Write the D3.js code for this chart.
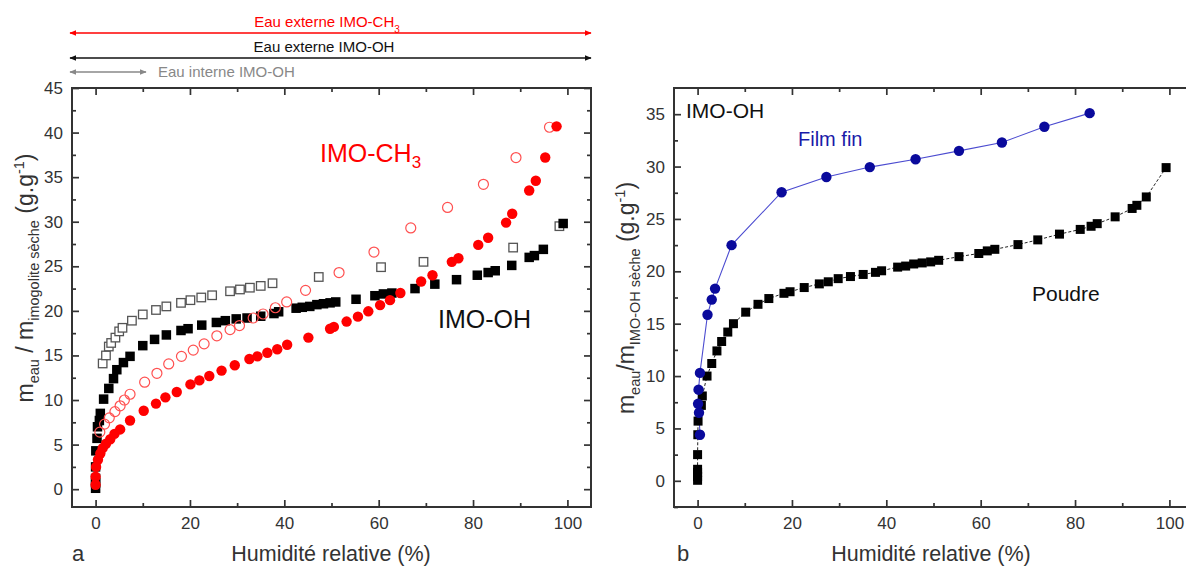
<!DOCTYPE html>
<html><head><meta charset="utf-8">
<script src="https://cdn.jsdelivr.net/npm/d3@7"></script>
<style>
body{margin:0;background:#fff}
svg{display:block}
text{font-family:"Liberation Sans",Arial,sans-serif}
</style>
</head><body>
<svg id="c" width="1186" height="566"></svg>
<script>
// ---------- data ----------
const xMajorTicks = [0, 20, 40, 60, 80, 100];
const xMinorTicks = [10, 30, 50, 70, 90];
const aYMajorTicks = [0, 5, 10, 15, 20, 25, 30, 35, 40, 45];
const aYMinorTicks = [2.5, 7.5, 12.5, 17.5, 22.5, 27.5, 32.5, 37.5, 42.5];
const bYMajorTicks = [0, 5, 10, 15, 20, 25, 30, 35];
const bYMinorTicks = [-2.5, 2.5, 7.5, 12.5, 17.5, 22.5, 27.5, 32.5];

// panel a : IMO-OH filled squares
const aOhX = [0,0,0,0,0.05,0.3,0.4,0.8,1.0,1.7,2.8,3.8,4.5,5.9,7.3,10.0,12.5,15.0,18.1,19.6,22.5,25.6,27.5,29.8,32.1,35.0,37.8,38.8,42.5,43.8,45.4,46.9,48.3,49.7,50.9,55.2,59.2,61.0,62.8,67.7,71.9,76.5,80.9,83.2,84.7,88.2,91.9,93.0,94.9,99.1];
const aOhY = [0.1,0.7,1.2,2.5,4.3,5.7,7.0,7.7,8.5,10.1,11.3,12.4,13.4,14.2,14.9,16.1,16.8,17.3,17.8,18.0,18.4,18.7,18.9,19.1,19.2,19.4,19.7,19.9,20.3,20.4,20.5,20.7,20.8,20.9,21.0,21.3,21.7,21.9,22.0,22.5,23.0,23.5,24.0,24.3,24.5,25.1,26.0,26.2,26.9,29.8];
// panel a : IMO-OH open squares
const aOhOpenX = [1.5,2.2,2.8,3.3,4.2,5.0,5.7,7.7,10.0,12.8,15.0,18.1,20.1,22.4,24.7,28.5,30.6,32.7,35.0,37.5,47.3,60.5,69.5,88.5,98.3];
const aOhOpenY = [14.1,15.0,16.0,16.4,17.0,17.7,18.1,18.9,19.6,20.1,20.5,20.9,21.2,21.5,21.75,22.2,22.4,22.6,22.8,23.1,23.8,24.9,25.5,27.1,29.5];
// panel a : IMO-CH3 filled circles
const aCh3X = [0,0,0.1,0.5,1.0,1.5,2.2,3.1,4.0,5.2,7.3,10.2,12.8,14.8,17.2,20.1,22.0,24.1,26.7,29.5,32.6,34.3,36.4,38.5,40.6,45.1,49.7,50.5,53.2,55.6,57.8,60.3,62.4,64.6,69.0,71.4,75.5,76.9,81.1,83.2,87.0,88.3,91.9,93.3,95.3,97.7];
const aCh3Y = [0.5,1.4,2.5,3.3,4.0,4.6,5.1,5.6,6.2,6.7,7.7,8.8,9.6,10.3,10.9,11.75,12.2,12.7,13.3,13.9,14.6,14.9,15.3,15.7,16.2,17.0,18.0,18.2,18.8,19.35,19.95,20.65,21.2,22.0,23.3,24.0,25.5,25.9,27.4,28.2,29.9,30.9,33.5,34.6,37.2,40.7];
// panel a : IMO-CH3 open circles
const aCh3OpenX = [0.9,1.9,2.9,4.1,5.2,6.1,7.3,10.4,13.0,15.5,18.2,20.7,23.0,25.7,28.5,30.5,33.4,35.5,38.1,40.5,44.5,51.6,59.0,66.8,74.6,82.2,89.1,96.2];
const aCh3OpenY = [6.4,7.3,8.0,8.7,9.35,10.0,10.65,12.0,13.0,14.05,14.9,15.6,16.3,17.2,17.9,18.35,19.2,19.65,20.35,21.0,22.3,24.3,26.6,29.3,31.6,34.2,37.2,40.6];

// panel b : Film fin
const bFilmX = [0.5,0.3,0.1,0.2,0.5,2.1,3.0,3.7,7.2,17.8,27.3,36.5,46.2,55.4,64.5,73.5,83.1];
const bFilmY = [4.4,6.5,7.35,8.7,10.3,15.85,17.3,18.35,22.5,27.55,29.0,29.95,30.7,31.5,32.3,33.8,35.1];
// panel b : Poudre
const bPowderX = [0,0,0,0,0,0.05,0.1,0.8,1.0,2.0,3.0,4.1,5.1,6.4,7.6,10.2,12.8,15.1,18.3,19.6,22.6,25.8,27.7,29.8,32.4,35.1,37.7,39.0,42.4,44.1,45.8,47.6,49.4,51.1,55.4,59.6,61.4,63.0,67.9,72.1,76.7,81.1,83.4,84.7,88.5,92.1,93.1,95.1,99.3];
const bPowderY = [0.05,0.4,0.8,1.1,2.5,4.4,5.7,7.2,8.1,10.0,11.2,12.4,13.3,14.2,15.0,16.1,16.85,17.4,17.9,18.05,18.45,18.8,19.0,19.3,19.5,19.7,19.9,20.05,20.4,20.5,20.7,20.8,20.9,21.05,21.4,21.7,21.95,22.1,22.55,23.0,23.55,24.0,24.3,24.55,25.2,26.0,26.3,27.1,29.9];

// ---------- drawing ----------
const svg = d3.select('#c');
const AX = '#333';
const pts = (xs, ys) => xs.map((x, i) => [x, ys[i]]);

const xA = d3.scaleLinear([-5, 105], [72, 591]);
const yA = d3.scaleLinear([-2, 45], [507, 88]);
const xB = d3.scaleLinear([-5, 105], [674, 1193]);
const yB = d3.scaleLinear([-2.5, 37.5], [507, 88]);

function frame(x, y, yMaj, yMin) {
  const [x0, x1] = x.range(), [yb, yt] = y.range();
  const g = svg.append('g');
  const mk = (axis, tr, vals, size, labels, pad) => {
    const a = axis.tickValues(vals).tickSize(-size).tickSizeOuter(0).tickPadding(pad || 0)
      .tickFormat(labels ? d3.format('d') : () => '');
    const s = g.append('g').attr('transform', tr).call(a);
    s.select('.domain').remove();
    s.selectAll('line').attr('stroke', AX).attr('stroke-width', 1.7);
    s.selectAll('text').attr('fill', AX).attr('font-size', 17)
      .attr('font-family', '"Liberation Sans",Arial,sans-serif');
    return s;
  };
  mk(d3.axisBottom(x), `translate(0,${yb})`, xMajorTicks, 7, true, 10);
  mk(d3.axisBottom(x), `translate(0,${yb})`, xMinorTicks, 4, false);
  mk(d3.axisTop(x), `translate(0,${yt})`, xMajorTicks, 7, false);
  mk(d3.axisTop(x), `translate(0,${yt})`, xMinorTicks, 4, false);
  mk(d3.axisLeft(y), `translate(${x0},0)`, yMaj, 7, true, 9);
  mk(d3.axisLeft(y), `translate(${x0},0)`, yMin, 4, false);
  mk(d3.axisRight(y), `translate(${x1},0)`, yMaj, 7, false);
  mk(d3.axisRight(y), `translate(${x1},0)`, yMin, 4, false);
  g.append('rect').attr('x', x0).attr('y', yt).attr('width', x1 - x0).attr('height', yb - yt)
    .attr('fill', 'none').attr('stroke', AX).attr('stroke-width', 2);
}

function squares(x, y, data, fill, stroke, size, sw) {
  svg.append('g').selectAll('rect').data(data).join('rect')
    .attr('x', d => x(d[0]) - size / 2).attr('y', d => y(d[1]) - size / 2)
    .attr('width', size).attr('height', size)
    .attr('fill', fill).attr('stroke', stroke).attr('stroke-width', sw || 0);
}
function circles(x, y, data, fill, stroke, r, sw) {
  svg.append('g').selectAll('circle').data(data).join('circle')
    .attr('cx', d => x(d[0])).attr('cy', d => y(d[1])).attr('r', r)
    .attr('fill', fill).attr('stroke', stroke).attr('stroke-width', sw || 0);
}
function richText(parent, parts, size, subSize) {
  let cur = 0;
  parts.forEach(([t, kind]) => {
    const target = kind === 'sub' ? 6 : kind === 'sup' ? -9 : 0;
    parent.append('tspan').attr('dy', target - cur)
      .attr('font-size', kind ? subSize : size).text(t);
    cur = target;
  });
}

// panel a
frame(xA, yA, aYMajorTicks, aYMinorTicks);
squares(xA, yA, pts(aOhOpenX, aOhOpenY), '#fff', '#555', 8.5, 1.3);
squares(xA, yA, pts(aOhX, aOhY), '#000', 'none', 9.5);
circles(xA, yA, pts(aCh3OpenX, aCh3OpenY), 'none', '#ff5050', 5, 1.2);
circles(xA, yA, pts(aCh3X, aCh3Y), '#ff0000', 'none', 5.2);

// panel b
frame(xB, yB, bYMajorTicks, bYMinorTicks);
const lineB = d3.line().x(d => xB(d[0])).y(d => yB(d[1]));
svg.append('path').attr('d', lineB(pts(bPowderX, bPowderY))).attr('fill', 'none')
  .attr('stroke', '#222').attr('stroke-width', 1).attr('stroke-dasharray', '3,2');
svg.append('path').attr('d', lineB(pts(bFilmX, bFilmY))).attr('fill', 'none')
  .attr('stroke', '#4b4bd0').attr('stroke-width', 1.1);
squares(xB, yB, pts(bPowderX, bPowderY), '#000', 'none', 9);
circles(xB, yB, pts(bFilmX, bFilmY), '#0a0a9c', 'none', 5.2);

// axis titles
svg.append('text').attr('x', 331).attr('y', 561).attr('text-anchor', 'middle')
  .attr('font-size', 21.5).attr('fill', AX).text('Humidité relative (%)');
svg.append('text').attr('x', 931).attr('y', 561).attr('text-anchor', 'middle')
  .attr('font-size', 21.5).attr('fill', AX).text('Humidité relative (%)');
svg.append('text').attr('x', 72).attr('y', 561).attr('font-size', 22).attr('fill', AX).text('a');
svg.append('text').attr('x', 677).attr('y', 561).attr('font-size', 22).attr('fill', AX).text('b');

const tA = svg.append('text').attr('transform', 'translate(33,278) rotate(-90)')
  .attr('text-anchor', 'middle').attr('fill', AX);
richText(tA, [['m'], ['eau', 'sub'], [' / m'], ['imogolite sèche', 'sub'], [' (g.g'], ['-1', 'sup'], [')']], 23, 14.5);
const tB = svg.append('text').attr('transform', 'translate(634,298) rotate(-90)')
  .attr('text-anchor', 'middle').attr('fill', AX);
richText(tB, [['m'], ['eau', 'sub'], ['/m'], ['IMO-OH sèche', 'sub'], [' (g.g'], ['-1', 'sup'], [')']], 23, 14.5);

// annotations
const tc = svg.append('text').attr('x', 320).attr('y', 162).attr('fill', '#ff0000');
richText(tc, [['IMO-CH'], ['3', 'sub']], 25, 17);
svg.append('text').attr('x', 438).attr('y', 328).attr('font-size', 25).attr('fill', '#111').text('IMO-OH');
svg.append('text').attr('x', 686).attr('y', 118).attr('font-size', 21).attr('fill', '#111').text('IMO-OH');
svg.append('text').attr('x', 798).attr('y', 146).attr('font-size', 20).attr('fill', '#1a1aa8').text('Film fin');
svg.append('text').attr('x', 1032).attr('y', 300.5).attr('font-size', 21).attr('fill', '#111').text('Poudre');

// top arrows
const defs = svg.append('defs');
[['red', '#ff0000'], ['blk', '#111'], ['gry', '#888']].forEach(([id, c]) => {
  defs.append('marker').attr('id', 'ar-' + id).attr('viewBox', '0 0 10 10')
    .attr('refX', 9).attr('refY', 5).attr('markerWidth', 7).attr('markerHeight', 7)
    .attr('markerUnits', 'userSpaceOnUse').attr('orient', 'auto-start-reverse')
    .append('path').attr('d', 'M0,1 L10,5 L0,9 Z').attr('fill', c);
});
function arrow(x1, x2, y, id, c) {
  svg.append('line').attr('x1', x1).attr('x2', x2).attr('y1', y).attr('y2', y)
    .attr('stroke', c).attr('stroke-width', 1.6)
    .attr('marker-start', `url(#ar-${id})`).attr('marker-end', `url(#ar-${id})`);
}
arrow(70, 591, 33, 'red', '#ff0000');
arrow(70, 591, 58, 'blk', '#111');
arrow(70, 146, 72, 'gry', '#888');
const t1 = svg.append('text').attr('x', 327).attr('y', 27).attr('text-anchor', 'middle').attr('fill', '#ff0000');
richText(t1, [['Eau externe IMO-CH'], ['3', 'sub']], 15, 10);
svg.append('text').attr('x', 324).attr('y', 52).attr('text-anchor', 'middle').attr('font-size', 15)
  .attr('fill', '#111').text('Eau externe IMO-OH');
svg.append('text').attr('x', 158).attr('y', 77).attr('font-size', 15).attr('fill', '#888').text('Eau interne IMO-OH');
</script>
</body></html>
